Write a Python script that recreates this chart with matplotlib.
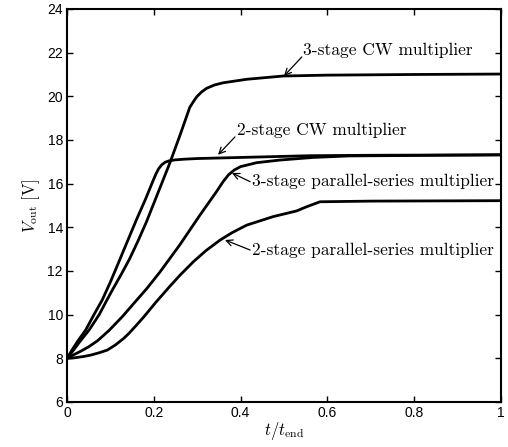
import numpy as np
import matplotlib.pyplot as plt

# traced values, t/t_end vs V_out
t_cw2 = [0, 0.012, 0.025, 0.043, 0.062, 0.081, 0.1, 0.119, 0.14, 0.16, 0.18, 0.199, 0.205,
         0.211, 0.218, 0.226, 0.236, 0.25, 0.27, 0.3, 0.4, 0.56, 0.7, 1.0]
v_cw2 = [8.0, 8.4, 8.8, 9.3, 10.0, 10.67, 11.5, 12.4, 13.4, 14.35, 15.25, 16.17, 16.45,
         16.68, 16.86, 16.98, 17.05, 17.09, 17.12, 17.15, 17.2, 17.28, 17.3, 17.32]

t_cw3 = [0, 0.015, 0.03, 0.051, 0.074, 0.09, 0.105, 0.125, 0.144, 0.163, 0.183, 0.203, 0.222,
         0.237, 0.26, 0.283, 0.292, 0.299, 0.31, 0.322, 0.34, 0.36, 0.414, 0.498, 0.6, 0.8, 1.0]
v_cw3 = [8.0, 8.38, 8.78, 9.3, 10.0, 10.6, 11.15, 11.85, 12.55, 13.35, 14.25, 15.25, 16.2,
         16.95, 18.2, 19.5, 19.78, 19.98, 20.2, 20.37, 20.52, 20.62, 20.78, 20.93, 20.97, 21.0, 21.02]

t_ps3 = [0, 0.015, 0.032, 0.05, 0.07, 0.097, 0.127, 0.162, 0.184, 0.214, 0.26, 0.306, 0.345,
         0.36, 0.372, 0.385, 0.4, 0.437, 0.49, 0.567, 0.65, 1.0]
v_ps3 = [8.0, 8.16, 8.33, 8.53, 8.8, 9.28, 9.9, 10.7, 11.2, 11.95, 13.2, 14.55, 15.65,
         16.1, 16.4, 16.62, 16.78, 16.96, 17.08, 17.2, 17.27, 17.32]

t_ps2 = [0, 0.02, 0.04, 0.055, 0.075, 0.093, 0.112, 0.131, 0.143, 0.16, 0.177, 0.204, 0.237,
         0.26, 0.291, 0.32, 0.353, 0.38, 0.414, 0.475, 0.529, 0.552, 0.583, 0.7, 1.0]
v_ps2 = [8.0, 8.03, 8.09, 8.15, 8.26, 8.38, 8.62, 8.92, 9.15, 9.52, 9.9, 10.55, 11.3,
         11.8, 12.42, 12.93, 13.42, 13.75, 14.1, 14.49, 14.75, 14.94, 15.17, 15.2, 15.22]

xticks = [0, 0.2, 0.4, 0.6, 0.8, 1]
xtick_labels = ['0', '0.2', '0.4', '0.6', '0.8', '1']
yticks = [6, 8, 10, 12, 14, 16, 18, 20, 22, 24]

plt.rcParams['mathtext.fontset'] = 'cm'

fig = plt.figure(figsize=(5.08, 4.47), dpi=100)
ax = fig.add_axes([0.132, 0.1007, 0.854, 0.8792])

for t, v in [(t_cw2, v_cw2), (t_cw3, v_cw3), (t_ps3, v_ps3), (t_ps2, v_ps2)]:
    ax.plot(t, v, color='black', lw=2.0, solid_joinstyle='round')

# labels with arrows
notes = [
    ('3-stage CW multiplier', (0.500, 20.93), (0.541, 21.80), (0.544, 22.10)),
    ('2-stage CW multiplier', (0.348, 17.32), (0.387, 18.14), (0.392, 18.46)),
    ('3-stage parallel-series multiplier', (0.380, 16.49), (0.422, 16.09), (0.4255, 16.09)),
    ('2-stage parallel-series multiplier', (0.364, 13.42), (0.422, 12.96), (0.426, 12.96)),
]
for txt, head, tail, pos in notes:
    ax.annotate('', xy=head, xytext=tail,
                arrowprops=dict(arrowstyle='->,head_length=0.45,head_width=0.22',
                                color='black', lw=0.9, shrinkA=0, shrinkB=0))
    ax.text(pos[0], pos[1], txt, family='cmr10', fontsize=12.5, ha='left', va='center')

ax.set_xlim(0, 1)
ax.set_ylim(6, 24)
ax.set_xticks(xticks)
ax.set_xticklabels(xtick_labels)
ax.set_yticks(yticks)
ax.tick_params(direction='in', top=True, right=True, length=4, width=1,
               labelsize=10, pad=3)
for lab in ax.get_xticklabels() + ax.get_yticklabels():
    lab.set_family('Liberation Sans')
for s in ax.spines.values():
    s.set_linewidth(1.5)

ax.set_xlabel(r'$t/t_{\rm end}$', fontsize=12, labelpad=0)
ax.set_ylabel(r'$V_{\rm out}\ [\rm V]$', fontsize=12, labelpad=4)

fig.savefig('out.png', dpi=100)
